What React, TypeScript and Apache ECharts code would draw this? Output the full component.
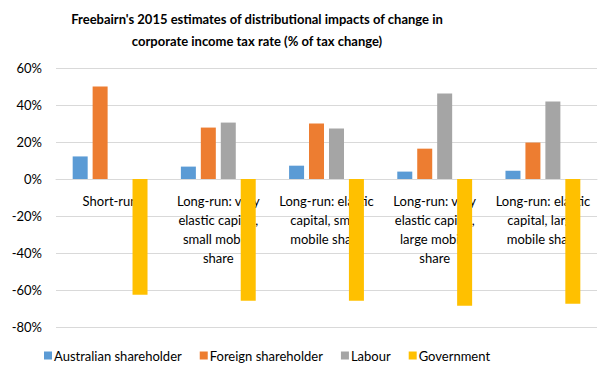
import React, { useEffect, useRef } from "react";
import * as echarts from "echarts";

const categories = [
  "Short-run",
  "Long-run: very\nelastic capital,\nsmall mobile\nshare",
  "Long-run: elastic\ncapital, small\nmobile share",
  "Long-run: very\nelastic capital,\nlarge mobile\nshare",
  "Long-run: elastic\ncapital, large\nmobile share",
];
const australian = [12.2, 6.7, 7.2, 4.0, 4.5];
const foreign = [50.0, 27.8, 30.0, 16.4, 19.7];
const labour = [0, 30.5, 27.3, 46.2, 41.9];
const government = [-62.5, -65.8, -65.8, -68.5, -67.4];
const seriesNames = ["Australian shareholder", "Foreign shareholder", "Labour", "Government"];
const colors = ["#5b9bd5", "#ed7d31", "#a5a5a5", "#ffc000"];
const titleLines = [
  "Freebairn's 2015 estimates of distributional impacts of change in",
  "corporate income tax rate (% of tax change)",
];

const FONT = "Lato, 'Open Sans', sans-serif";
const Y_MIN = -80;
const Y_MAX = 60;

export default function App() {
  const ref = useRef<HTMLDivElement>(null);
  useEffect(() => {
    if (!ref.current) return;
    const chart = echarts.init(ref.current, null, { renderer: "svg" });
    const data = [australian, foreign, labour, government];
    const gridTop = 68;
    const gridBottom = 52;
    const gridH = 379 - gridTop - gridBottom;
    // shift the category axis (labels) from the grid bottom up to the zero line
    const zeroOffset = -(gridH * (0 - Y_MIN)) / (Y_MAX - Y_MIN);
    chart.setOption({
      animation: false,
      backgroundColor: "#ffffff",
      textStyle: { fontFamily: FONT },
      title: titleLines.map((t, i) => ({
        text: t,
        left: 257,
        top: 12 + i * 22,
        textAlign: "center",
        padding: 0,
        textStyle: {
          fontFamily: FONT,
          fontSize: 13,
          fontWeight: "bold",
          color: "#000000",
        },
      })),
      legend: {
        top: 349,
        left: 44,
        itemWidth: 8,
        itemHeight: 8,
        itemGap: 18,
        icon: "rect",
        padding: 0,
        textStyle: { fontFamily: FONT, fontSize: 13, color: "#000000", padding: [0, 0, 0, -3] },
        data: seriesNames,
      },
      grid: { left: 56, right: 15, top: gridTop, bottom: gridBottom, outerBoundsMode: "none", containLabel: false },
      xAxis: {
        type: "category",
        data: categories,
        offset: zeroOffset,
        axisLine: { onZero: false, lineStyle: { color: "#d9d9d9" } },
        axisTick: { show: false },
        axisLabel: {
          interval: 0,
          fontFamily: FONT,
          fontSize: 13,
          color: "#000000",
          lineHeight: 19,
          margin: 12,
        },
      },
      yAxis: {
        type: "value",
        min: Y_MIN,
        max: Y_MAX,
        interval: 20,
        axisLine: { show: false },
        axisTick: { show: false },
        splitLine: { lineStyle: { color: "#d9d9d9" } },
        axisLabel: {
          formatter: (v: number) => `${v}%`,
          fontFamily: FONT,
          fontSize: 13,
          color: "#000000",
          margin: 14,
        },
      },
      series: seriesNames.map((name, i) => ({
        name,
        type: "bar",
        data: data[i],
        barWidth: 15,
        barGap: "33%",
        itemStyle: { color: colors[i] },
      })),
    });
    return () => chart.dispose();
  }, []);
  return (
    <div
      ref={ref}
      style={{ position: "absolute", left: 0, top: 0, width: 612, height: 379 }}
    />
  );
}
